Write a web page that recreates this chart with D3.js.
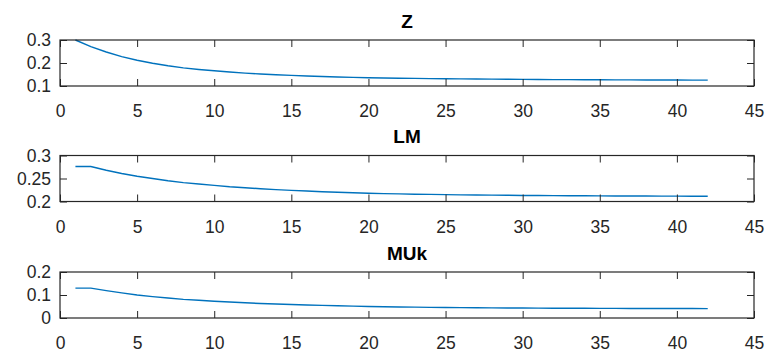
<!DOCTYPE html>
<html>
<head>
<meta charset="utf-8">
<script src="https://cdn.jsdelivr.net/npm/d3@7"></script>
<style>
    body { margin: 0; background: #fff; }
    svg { display: block; font-family: "Liberation Sans", Arial, Helvetica, sans-serif; }
    .tick text { fill: #262626; }
</style>
</head>
<body>
<svg id="chart" width="769" height="354"></svg>
<script>
// x is the step index 1..42
const steps = d3.range(1, 43);

const zValues = [0.300, 0.271, 0.248, 0.228, 0.212, 0.199, 0.188, 0.179, 0.172, 0.166,
    0.161, 0.156, 0.152, 0.149, 0.146, 0.1435, 0.1413, 0.1394, 0.1376, 0.1360,
    0.1349, 0.1339, 0.1330, 0.1322, 0.1315, 0.1308, 0.1302, 0.1297, 0.1292, 0.1287,
    0.1283, 0.1279, 0.1276, 0.1273, 0.1270, 0.1267, 0.1265, 0.1263, 0.1261, 0.1259,
    0.1257, 0.1256];

const lmValues = [0.276, 0.276, 0.268, 0.261, 0.255, 0.250, 0.245, 0.241, 0.238, 0.235,
    0.232, 0.2298, 0.2278, 0.2259, 0.2242, 0.2227, 0.2213, 0.2201, 0.2190, 0.2180,
    0.2172, 0.2165, 0.2159, 0.2154, 0.2149, 0.2145, 0.2141, 0.2138, 0.2135, 0.2132,
    0.2130, 0.2128, 0.2126, 0.2124, 0.2122, 0.2121, 0.2119, 0.2118, 0.2117, 0.2116,
    0.2115, 0.2114];

const mukValues = [0.130, 0.130, 0.119, 0.109, 0.100, 0.093, 0.087, 0.081, 0.077, 0.073,
    0.0693, 0.0660, 0.0632, 0.0609, 0.0590, 0.0567, 0.0547, 0.0530, 0.0515, 0.0502,
    0.0490, 0.0480, 0.0471, 0.0463, 0.0456, 0.0450, 0.0445, 0.0440, 0.0436, 0.0432,
    0.0429, 0.0426, 0.0423, 0.0421, 0.0419, 0.0417, 0.0415, 0.0413, 0.0412, 0.0411,
    0.0410, 0.0409];

const titles = ["Z", "LM", "MUk"];
const yDomains = [[0.1, 0.3], [0.2, 0.3], [0, 0.2]];
const yTicks = [[0.1, 0.2, 0.3], [0.2, 0.25, 0.3], [0, 0.1, 0.2]];
const xTicks = [0, 5, 10, 15, 20, 25, 30, 35, 40, 45];
const series = [zValues, lmValues, mukValues];

const svg = d3.select("#chart");
const axisColor = "#262626";
const left = 60, right = 754, plotH = 46;
const tops = [40, 155.5, 272];
const tickLen = 7;

let x = d3.scaleLinear().domain([0, 45]).range([left, right]);

series.forEach((vals, i) => {
    let top = tops[i];
    let y = d3.scaleLinear().domain(yDomains[i]).range([top + plotH, top]);
    let g = svg.append("g");

    // data line
    let line = d3.line()
        .x((d, j) => x(steps[j]))
        .y(d => y(d));

    g.append("path")
        .datum(vals)
        .attr("d", line)
        .attr("fill", "none")
        .attr("stroke", "#0072BD")
        .attr("stroke-width", 1.4);

    // bottom axis with labels, ticks pointing inward
    g.append("g")
        .attr("transform", `translate(0,${top + plotH})`)
        .call(d3.axisBottom(x).tickValues(xTicks).tickSizeInner(-tickLen).tickSizeOuter(0).tickPadding(19))
        .call(a => a.selectAll("text").attr("font-size", 17.5))
        .call(a => a.selectAll("line,path").attr("stroke", axisColor));

    // top ticks
    g.append("g")
        .attr("transform", `translate(0,${top})`)
        .call(d3.axisTop(x).tickValues(xTicks).tickSizeInner(-tickLen).tickSizeOuter(0).tickFormat(""))
        .call(a => a.selectAll("line,path").attr("stroke", axisColor));

    // left axis
    g.append("g")
        .attr("transform", `translate(${left},0)`)
        .call(d3.axisLeft(y).tickValues(yTicks[i]).tickSizeInner(-tickLen).tickSizeOuter(0).tickPadding(9).tickFormat(d3.format("")))
        .call(a => a.selectAll("text").attr("font-size", 17.5))
        .call(a => a.selectAll("line,path").attr("stroke", axisColor));

    // right ticks
    g.append("g")
        .attr("transform", `translate(${right},0)`)
        .call(d3.axisRight(y).tickValues(yTicks[i]).tickSizeInner(-tickLen).tickSizeOuter(0).tickFormat(""))
        .call(a => a.selectAll("line,path").attr("stroke", axisColor));

    g.selectAll(".domain").remove();

    // box
    g.append("rect")
        .attr("x", left)
        .attr("y", top)
        .attr("width", right - left)
        .attr("height", plotH)
        .attr("fill", "none")
        .attr("stroke", axisColor)
        .attr("stroke-width", 1.2);

    g.append("text")
        .attr("x", (left + right) / 2)
        .attr("y", top - 12.5)
        .attr("text-anchor", "middle")
        .attr("font-size", 19)
        .attr("font-weight", "bold")
        .attr("fill", "#000")
        .text(titles[i]);
});
</script>
</body>
</html>
